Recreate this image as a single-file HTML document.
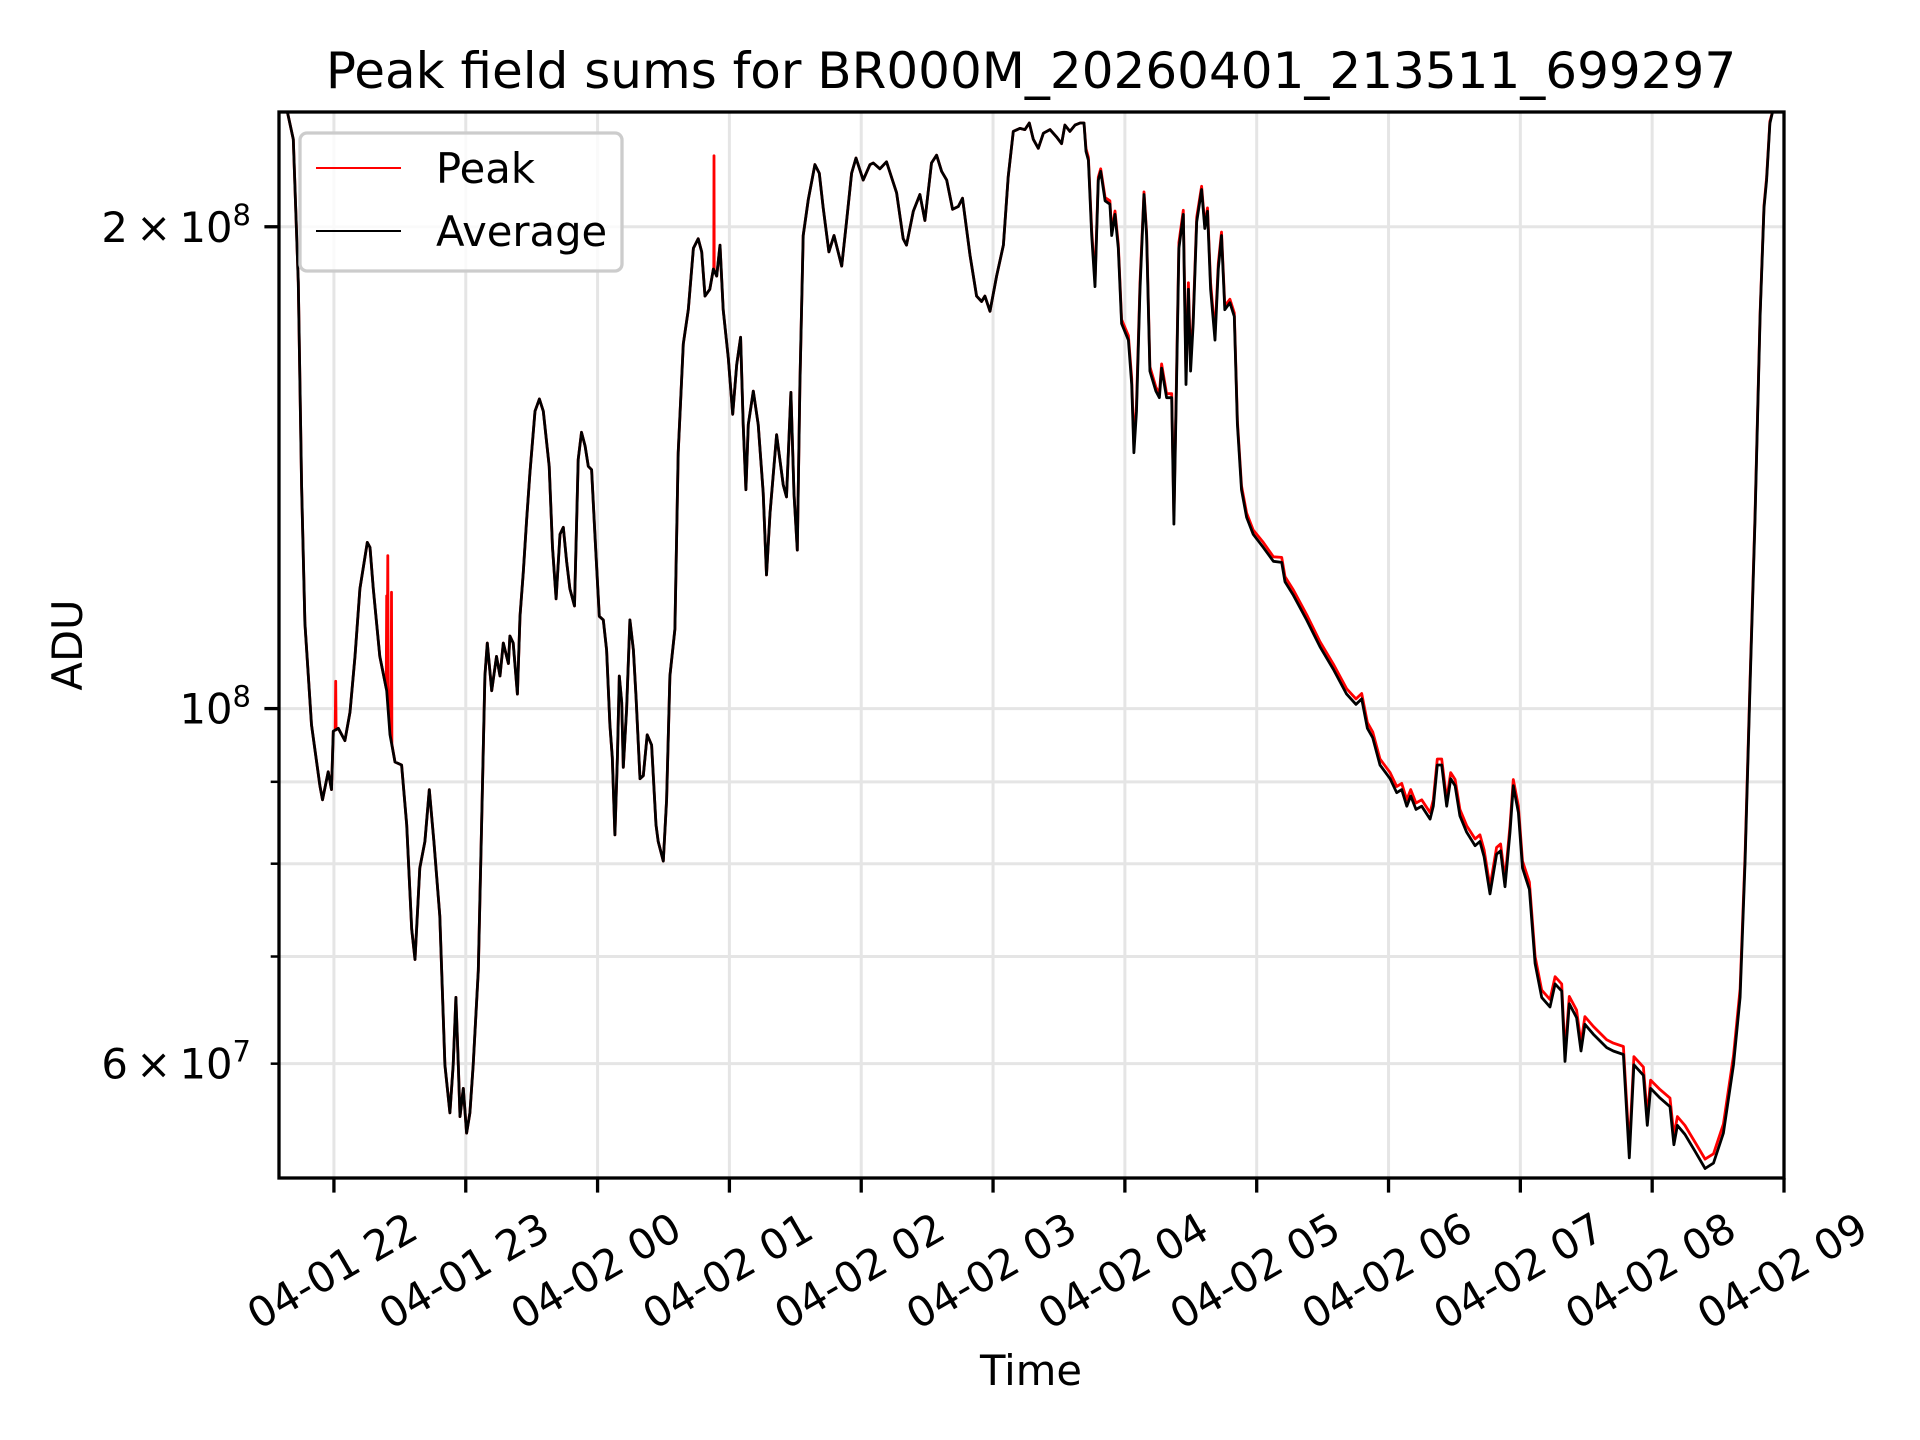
<!DOCTYPE html>
<html><head><meta charset="utf-8"><style>
html,body{margin:0;padding:0;background:#fff;}
svg{display:block;font-family:"DejaVu Sans","Liberation Sans",sans-serif;}
</style></head><body>
<svg id="chart" width="1920" height="1440" viewBox="0 0 1920 1440" xmlns="http://www.w3.org/2000/svg">
<defs><clipPath id="plotclip"><rect x="279" y="112" width="1505" height="1066"/></clipPath></defs>
<rect x="0" y="0" width="1920" height="1440" fill="#fff"/>
<g id="grid"></g>
<g id="series" clip-path="url(#plotclip)"></g>
<rect x="279" y="112" width="1505" height="1066" fill="none" stroke="#000" stroke-width="3.3"/>
<g id="axes"></g>
<text x="1031" y="88" font-size="50" text-anchor="middle">Peak field sums for BR000M_20260401_213511_699297</text>
<text transform="translate(82,645) rotate(-90)" font-size="41.7" text-anchor="middle">ADU</text>
<text x="1031" y="1385" font-size="41.7" text-anchor="middle">Time</text>
<g>
<rect x="300" y="133" width="322" height="138" rx="7" fill="#fff" fill-opacity="0.8" stroke="#cccccc" stroke-width="3.3"/>
<g>
<line x1="316" y1="168" x2="401" y2="168" stroke="#ff0000" stroke-width="2"/>
<text x="436" y="183" font-size="41.7">Peak</text>
</g>
<g>
<line x1="316" y1="231" x2="401" y2="231" stroke="#000" stroke-width="2"/>
<text x="436" y="246" font-size="41.7">Average</text>
</g>
</g>
</svg>
<script>
// minutes since 04-01 21:00
const avgTimes = [35,38.5,41.5,43.8,45.3,46.8,49.8,53.6,54.8,57.4,58.9,59.7,62.0,65.0,67.3,69.6,71.8,75.2,76.4,77.9,80.9,84.0,85.5,87.8,90.8,93.1,95.4,96.9,99.1,101.4,103.4,105.5,108.2,110.5,112.8,114.3,115.5,116.6,117.4,118.9,120.4,121.9,123.4,125.7,127.2,128.7,129.8,131.8,134.0,135.6,137.1,139.4,140.1,141.6,143.5,144.7,146.2,147.7,149.2,151.5,153.5,155.3,158.0,159.5,161.1,162.9,164.4,165.9,167.4,169.5,171.2,172.7,174.3,175.8,177.3,178.8,180.8,182.6,184.1,185.6,186.7,187.9,189.0,189.9,191.0,191.7,193.2,194.7,196.3,197.5,199.3,200.8,202.6,204.6,206.6,207.6,209.9,211.4,212.9,215.2,216.7,219.0,221.3,223.6,225.8,227.4,228.9,231.1,232.7,234.2,235.7,237.2,239.5,241.5,243.3,245.1,246.3,247.5,248.6,250.9,253.1,255.4,256.9,258.5,261.5,264.5,266.0,268.0,269.4,270.9,272.1,273.6,275.9,278.9,280.9,282.7,285.3,287.6,291.1,293.3,295.6,297.6,300.9,304.0,305.5,308.5,311.5,316.1,319.1,320.6,323.7,326.7,329.0,332.0,334.3,336.6,338.9,341.6,344.2,346.1,349.5,352.5,354.8,356.3,358.6,361.6,364.7,366.9,369.2,372.2,374.5,376.5,378.3,380.6,382.9,385.9,388.9,391.2,392.7,395.0,397.3,399.6,401.4,402.3,403.4,404.9,406.4,407.9,409.0,411.0,413.2,414.0,415.5,417.0,418.5,421.6,423.1,424.1,425.3,426.9,428.7,429.9,431.4,434.1,435.7,436.7,439.0,441.3,442.3,443.5,444.6,446.6,447.8,448.9,449.9,451.1,452.7,454.9,456.4,457.6,459.0,461.0,462.5,464.0,465.5,467.8,469.8,471.2,473.1,475.4,478.4,483.0,487.6,491.4,492.9,496.7,502.7,508.8,514.9,520.9,525.2,527.8,530.4,532.8,536.1,540.7,543.7,546.0,548.3,550.1,552.5,555.1,558.9,560.4,562.2,564.2,566.5,568.3,570.3,572.5,575.6,579.4,581.6,583.5,586.2,589.2,591.0,593.0,595.3,596.8,599.1,601.0,604.1,606.7,609.7,613.5,615.8,618.8,620.3,622.3,625.6,627.6,629.4,633.2,639.3,642.3,646.9,649.6,651.7,656.0,657.8,659.3,663.6,668.1,669.9,671.5,674.9,679.5,684.1,687.9,692.4,697.0,700.0,702.3,704.5,706.8,709.1,710.9,712.1,713.6,714.8,720];
// millions of ADU
const avgValues = [236,237,226.8,184.6,137.7,113.1,97.7,89.5,87.7,91.3,89.0,96.8,97.2,95.5,99.5,107.8,118.8,127.0,126.1,118.8,107.8,102.6,96.3,92.6,92.2,84.6,72.8,69.7,79.5,82.6,89.0,82.6,74.2,59.9,55.9,59.9,66.0,59.9,55.6,57.9,54.3,55.9,59.9,68.6,84.6,104.8,109.9,102.6,107.8,104.8,109.9,106.7,111.0,109.9,102.1,114.2,121.7,131.1,140.3,153.4,156.1,153.4,141.7,126.1,117.1,128.5,129.8,123.6,118.8,115.9,143.1,148.8,145.9,141.7,141.0,128.5,114.2,113.6,108.8,97.7,93.2,83.4,93.2,104.8,100.9,91.9,99.9,113.6,108.8,101.8,90.4,90.8,96.3,94.9,84.6,82.6,80.3,87.7,104.8,112.1,144.5,169.0,177.5,193.9,196.6,192.9,181.0,182.8,188.2,186.3,194.8,177.5,165.6,152.7,164.0,170.6,150.5,137.0,150.5,157.9,150.5,136.4,121.2,132.4,148.3,138.0,135.6,157.6,136.2,125.6,159.4,197.5,208.0,218.7,216.0,205.5,192.9,197.5,189.0,201.4,216.0,220.8,213.9,218.7,219.2,217.4,219.6,210.0,196.6,194.8,204.5,209.5,201.8,219.2,221.7,216.6,213.9,205.1,205.9,208.4,192.0,181.0,179.6,181.0,177.1,186.3,194.8,214.9,229.4,230.4,230.0,232.2,226.8,223.9,228.8,230.0,227.6,225.4,231.5,229.4,231.5,232.2,232.2,222.9,220.1,197.5,183.5,213.9,216.6,207.6,206.6,197.5,203.6,193.9,174.0,169.9,159.4,144.5,153.4,182.8,209.5,197.5,162.5,157.9,156.4,163.2,156.4,156.4,130.4,159.4,193.9,203.6,159.4,182.8,162.5,174.0,201.4,211.0,199.5,204.5,182.8,169.9,188.2,197.5,177.5,179.3,175.8,150.5,137.0,131.7,128.5,126.1,123.6,123.4,120.0,117.7,113.6,109.3,105.8,102.1,100.6,101.4,97.2,95.9,92.2,90.4,88.6,89.0,86.9,88.2,86.5,86.9,85.3,86.9,92.2,92.2,86.9,90.4,89.5,85.7,83.7,82.1,82.6,80.8,76.6,81.1,81.5,77.4,83.7,89.5,86.1,79.5,77.1,69.3,66.0,65.1,67.3,66.6,60.2,65.4,64.1,61.1,63.5,62.6,61.4,61.1,60.8,52.4,59.9,59.0,54.9,57.9,57.1,56.4,53.4,54.9,54.2,52.9,51.6,52.0,54.3,59.9,66.0,80.3,102.6,131.1,175.8,205.5,213.9,232.1,236,240];
const peakTimes = [35,38.5,41.5,43.8,45.3,46.8,49.8,53.6,54.8,57.4,58.9,59.7,60.6,60.8,61.0,62.0,65.0,67.3,69.6,71.8,75.2,76.4,77.9,80.9,83.8,84.0,84.2,84.5,84.7,84.9,85.5,86.0,86.2,86.4,87.8,90.8,93.1,95.4,96.9,99.1,101.4,103.4,105.5,108.2,110.5,112.8,114.3,115.5,116.6,117.4,118.9,120.4,121.9,123.4,125.7,127.2,128.7,129.8,131.8,134.0,135.6,137.1,139.4,140.1,141.6,143.5,144.7,146.2,147.7,149.2,151.5,153.5,155.3,158.0,159.5,161.1,162.9,164.4,165.9,167.4,169.5,171.2,172.7,174.3,175.8,177.3,178.8,180.8,182.6,184.1,185.6,186.7,187.9,189.0,189.9,191.0,191.7,193.2,194.7,196.3,197.5,199.3,200.8,202.6,204.6,206.6,207.6,209.9,211.4,212.9,215.2,216.7,219.0,221.3,223.6,225.8,227.4,228.9,231.1,232.7,232.9,233.0,233.1,234.2,235.7,237.2,239.5,241.5,243.3,245.1,246.3,247.5,248.6,250.9,253.1,255.4,256.9,258.5,261.5,264.5,266.0,268.0,269.4,270.9,272.1,273.6,275.9,278.9,280.9,282.7,285.3,287.6,291.1,293.3,295.6,297.6,300.9,304.0,305.5,308.5,311.5,316.1,319.1,320.6,323.7,326.7,329.0,332.0,334.3,336.6,338.9,341.6,344.2,346.1,349.5,352.5,354.8,356.3,358.6,361.6,364.7,366.9,369.2,372.2,374.5,376.5,378.3,380.6,382.9,385.9,388.9,391.2,392.7,395.0,397.3,399.6,401.4,402.3,403.4,404.9,406.4,407.9,409.0,411.0,413.2,414.0,415.5,417.0,418.5,421.6,423.1,424.1,425.3,426.9,428.7,429.9,431.4,434.1,435.7,436.7,439.0,441.3,442.3,443.5,444.6,446.6,447.8,448.9,449.9,451.1,452.7,454.9,456.4,457.6,459.0,461.0,462.5,464.0,465.5,467.8,469.8,471.2,473.1,475.4,478.4,483.0,487.6,491.4,492.9,496.7,502.7,508.8,514.9,520.9,525.2,527.8,530.4,532.8,536.1,540.7,543.7,546.0,548.3,550.1,552.5,555.1,558.9,560.4,562.2,564.2,566.5,568.3,570.3,572.5,575.6,579.4,581.6,583.5,586.2,589.2,591.0,593.0,595.3,596.8,599.1,601.0,604.1,606.7,609.7,613.5,615.8,618.8,620.3,622.3,625.6,627.6,629.4,633.2,639.3,642.3,646.9,649.6,651.7,656.0,657.8,659.3,663.6,668.1,669.9,671.5,674.9,679.5,684.1,687.9,692.4,697.0,700.0,702.3,704.5,706.8,709.1,710.9,712.1,713.6,714.8,720];
const peakValues = [236,237,226.8,184.6,137.7,113.1,97.7,89.5,87.7,91.3,89.0,96.8,97.0,104.0,97.0,97.2,95.5,99.5,107.8,118.8,127.0,126.1,118.8,107.8,103.0,117.6,103.0,124.6,103.5,102.0,96.5,96.0,118.2,95.0,92.6,92.2,84.6,72.8,69.7,79.5,82.6,89.0,82.6,74.2,59.9,55.9,59.9,66.0,59.9,55.6,57.9,54.3,55.9,59.9,68.6,84.6,104.8,109.9,102.6,107.8,104.8,109.9,106.7,111.0,109.9,102.1,114.2,121.7,131.1,140.3,153.4,156.1,153.4,141.7,126.1,117.1,128.5,129.8,123.6,118.8,115.9,143.1,148.8,145.9,141.7,141.0,128.5,114.2,113.6,108.8,97.7,93.2,83.4,93.2,104.8,100.9,91.9,99.9,113.6,108.8,101.8,90.4,90.8,96.3,94.9,84.6,82.6,80.3,87.7,104.8,112.1,144.5,169.0,177.5,193.9,196.6,192.9,181.0,182.8,188.2,188.5,221.5,188.0,186.3,194.8,177.5,165.6,152.7,164.0,170.6,150.5,137.0,150.5,157.9,150.5,136.4,121.2,132.4,148.3,138.0,135.6,157.6,136.2,125.6,159.4,197.5,208.0,218.7,216.0,205.5,192.9,197.5,189.0,201.4,216.0,220.8,213.9,218.7,219.2,217.4,219.6,210.0,196.6,194.8,204.5,209.5,201.8,219.2,221.7,216.6,213.9,205.1,205.9,208.4,192.0,181.0,179.6,181.0,177.1,186.3,194.8,214.9,229.4,230.4,230.0,232.2,226.8,223.9,228.8,230.0,227.6,225.4,231.5,229.4,231.5,232.2,232.2,223.8,221.0,199.0,185.0,214.8,217.4,208.6,207.6,198.6,204.6,195.0,175.0,171.0,160.8,146.0,155.0,184.5,210.3,198.5,163.5,158.8,157.3,164.2,157.3,157.3,132.0,161.0,195.5,204.8,161.5,184.5,164.2,175.5,202.7,212.0,200.5,205.5,184.5,171.5,189.7,198.5,178.5,180.2,176.7,151.3,137.8,132.5,129.3,127.0,124.4,124.3,120.9,118.6,114.5,110.1,106.6,102.9,101.4,102.2,98.0,96.7,93.0,91.2,89.4,89.8,87.7,89.0,87.3,87.7,86.1,87.7,93.0,93.0,87.7,91.2,90.3,86.5,84.5,82.9,83.4,81.6,77.4,81.9,82.3,78.2,84.5,90.3,86.9,80.3,77.9,70.0,66.7,65.8,68.0,67.3,60.9,66.1,64.8,61.8,64.2,63.3,62.1,61.8,61.5,53.1,60.6,59.7,55.6,58.6,57.8,57.1,54.1,55.6,54.9,53.6,52.3,52.7,55.0,60.7,66.8,81.1,103.4,132.0,176.6,206.2,214.7,232.8,236,240];
const hourTicks = [60,120,180,240,300,360,420,480,540,600,660,720];
const hourLabels = ["04-01 22","04-01 23","04-02 00","04-02 01","04-02 02","04-02 03","04-02 04","04-02 05","04-02 06","04-02 07","04-02 08","04-02 09"];
const majorYTicks = [100,200];
const minorYTicks = [60,70,80,90];
const yTickLabelMant = ["", "2"];
const yTickLabelExp = ["8","8"];

const NS = "http://www.w3.org/2000/svg";
const X0=279, X1=1784, Y0=112, Y1=1178, TMIN=35, TMAX=720;
const LMIN=Math.log10(50.9), LMAX=Math.log10(235.9);
function xScale(t){return X0+(t-TMIN)/(TMAX-TMIN)*(X1-X0);}
function yScale(v){return Y1-(Math.log10(v)-LMIN)/(LMAX-LMIN)*(Y1-Y0);}
function mk(tag,attrs,parent){const e=document.createElementNS(NS,tag);for(const k in attrs)e.setAttribute(k,attrs[k]);parent.appendChild(e);return e;}
const grid=document.getElementById('grid'), axes=document.getElementById('axes'), series=document.getElementById('series');

hourTicks.forEach((t,i)=>{
  const x=xScale(t);
  const g=mk('line',{x1:x,y1:Y0,x2:x,y2:Y1,stroke:'#e5e5e5','stroke-width':3},grid);
  
  
  const tk=mk('line',{x1:x,y1:Y1,x2:x,y2:Y1+14.6,stroke:'#000','stroke-width':3.3},axes);
  
  
  const tx=mk('text',{transform:`translate(${x},${Y1+96}) rotate(-30)`,'font-size':41.7,'text-anchor':'middle','dominant-baseline':'middle'},axes);
  tx.textContent=hourLabels[i];
  
  
});
majorYTicks.concat(minorYTicks).forEach(v=>{
  const y=yScale(v);
  const g=mk('line',{x1:X0,y1:y,x2:X1,y2:y,stroke:'#e5e5e5','stroke-width':3},grid);
  
  
});
majorYTicks.forEach((v,i)=>{
  const y=yScale(v);
  const tk=mk('line',{x1:X0-14.6,y1:y,x2:X0,y2:y,stroke:'#000','stroke-width':3.3},axes);
  
  
  const tx=mk('text',{x:X0-28,y:y+15,'font-size':41.7,'text-anchor':'end'},axes);
  
  
  const m=yTickLabelMant[i];
  tx.appendChild(document.createTextNode((m?m+"\u2009\u00d7\u2009":"")+"10"));
  const sup=mk('tspan',{'font-size':29,dy:-17},tx);
  sup.textContent=yTickLabelExp[i];
});
[60].forEach(v=>{
  const y=yScale(v);
  const tx=mk('text',{x:X0-28,y:y+15,'font-size':41.7,'text-anchor':'end'},axes);
  
  
  tx.appendChild(document.createTextNode("6\u2009\u00d7\u200910"));
  const sup=mk('tspan',{'font-size':29,dy:-17},tx);
  sup.textContent="7";
});
minorYTicks.forEach(v=>{
  const y=yScale(v);
  const tk=mk('line',{x1:X0-8.3,y1:y,x2:X0,y2:y,stroke:'#000','stroke-width':2.5},axes);
  
  
});
function path(ts,vs,color){
  let d='';ts.forEach((t,i)=>{d+=(i?'L':'M')+xScale(t).toFixed(1)+','+yScale(vs[i]).toFixed(1);});
  return mk('path',{d:d,fill:'none',stroke:color,'stroke-width':2.8,'stroke-linejoin':'round'},series);
}
const pk=path(peakTimes,peakValues,'#ff0000');


const av=path(avgTimes,avgValues,'#000000');


</script>
</body></html>
